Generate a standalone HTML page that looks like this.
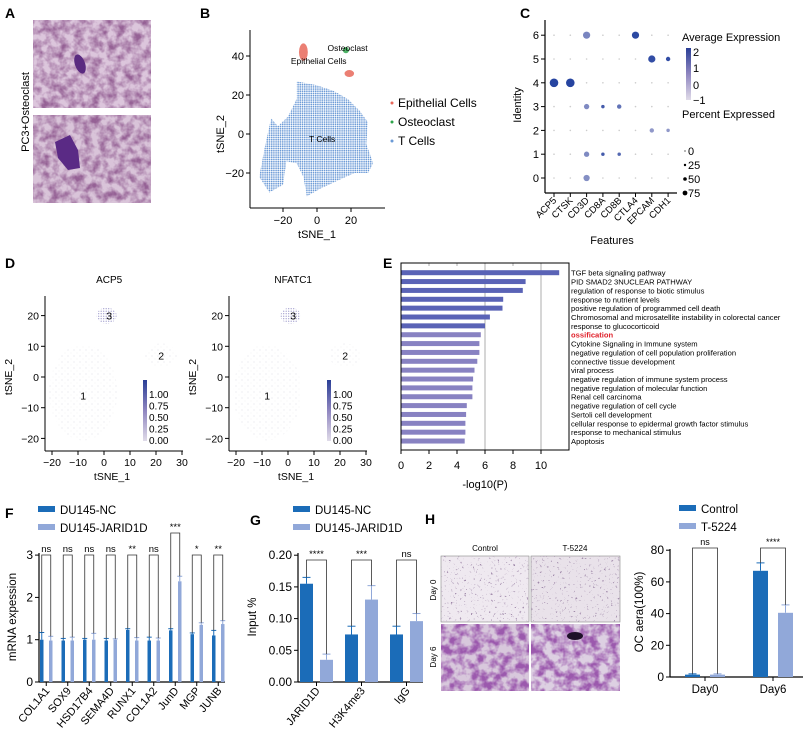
<!DOCTYPE html>
<html><head><meta charset="utf-8">
<style>
html,body{margin:0;padding:0;background:#fff;}
svg{display:block;font-family:"Liberation Sans",Arial,sans-serif;}
</style></head>
<body>
<svg id="fig" width="811" height="738" viewBox="0 0 811 738" xmlns="http://www.w3.org/2000/svg">
<defs>
  <pattern id="tdots" width="2.2" height="2.2" patternUnits="userSpaceOnUse"><circle cx="1.1" cy="1.1" r="0.85" fill="#6b9ad6"/></pattern>
  <pattern id="gdots" width="6" height="6" patternUnits="userSpaceOnUse"><circle cx="2" cy="2" r="0.5" fill="#d6d6de"/><circle cx="5" cy="5" r="0.4" fill="#e0e0e6"/></pattern>
  <pattern id="pdots" width="2.5" height="2.5" patternUnits="userSpaceOnUse"><circle cx="1.2" cy="1.2" r="0.6" fill="#7a74b8"/></pattern>
  <linearGradient id="cbar" x1="0" y1="1" x2="0" y2="0"><stop offset="0" stop-color="#e0dbe8"/><stop offset="0.5" stop-color="#8f86c0"/><stop offset="1" stop-color="#2a3f96"/></linearGradient>
  <filter id="tex1" x="0" y="0" width="1" height="1"><feTurbulence type="fractalNoise" baseFrequency="0.12" numOctaves="3" seed="3"/><feColorMatrix type="matrix" values="0 0 0 0 0.3  0 0 0 0 0.12  0 0 0 0 0.3  0 0 0 -2.2 1.45"/></filter>
  <filter id="tex2" x="0" y="0" width="1" height="1"><feTurbulence type="fractalNoise" baseFrequency="0.45" numOctaves="2" seed="7"/><feColorMatrix type="matrix" values="0 0 0 0 0.35  0 0 0 0 0.25  0 0 0 0 0.4  10 0 0 0 -6.6"/></filter>
  <filter id="tex3" x="0" y="0" width="1" height="1"><feTurbulence type="fractalNoise" baseFrequency="0.11" numOctaves="3" seed="11"/><feColorMatrix type="matrix" values="0 0 0 0 0.33  0 0 0 0 0.1  0 0 0 0 0.42  0 0 0 -3 1.9"/></filter>
</defs>

<g>
  <text x="5" y="18" font-size="14" font-weight="bold">A</text>
  <text transform="translate(29,112) rotate(-90)" text-anchor="middle" font-size="11">PC3+Osteoclast</text>
  <rect x="33" y="20" width="118" height="88" fill="#dcc6dc"/>
  <rect x="33" y="20" width="118" height="88" filter="url(#tex1)"/>
  <ellipse cx="80" cy="64" rx="5" ry="10" fill="#5a2a80" transform="rotate(-20 80 64)"/>
  <rect x="33" y="115" width="118" height="88" fill="#d9c4d9"/>
  <rect x="33" y="115" width="118" height="88" filter="url(#tex1)"/>
  <path d="M55,142 L70,135 L78,150 L80,168 L68,170 L58,158 Z" fill="#5a2a85"/>
</g>

<g>
  <text x="200" y="18" font-size="14" font-weight="bold">B</text>
  <g id="bplot"></g>
</g>

<g>
  <text x="520" y="18" font-size="14" font-weight="bold">C</text>
  <g id="cplot"></g>
</g>

<g>
  <text x="5" y="268" font-size="14" font-weight="bold">D</text>
  <g id="dplot"></g>
</g>

<g>
  <text x="383" y="268" font-size="14" font-weight="bold">E</text>
  <g id="eplot"></g>
</g>

<g>
  <text x="5" y="518" font-size="14" font-weight="bold">F</text>
  <g id="fplot"></g>
</g>

<g>
  <text x="250" y="525" font-size="14" font-weight="bold">G</text>
  <g id="gplot"></g>
</g>

<g>
  <text x="425" y="524" font-size="14" font-weight="bold">H</text>
  <text x="485" y="551" text-anchor="middle" font-size="8">Control</text>
  <text x="575" y="551" text-anchor="middle" font-size="8">T-5224</text>
  <text transform="translate(436,590) rotate(-90)" text-anchor="middle" font-size="8">Day 0</text>
  <text transform="translate(436,657) rotate(-90)" text-anchor="middle" font-size="8">Day 6</text>
  <rect x="441" y="556" width="88" height="66" fill="#efe9f0" stroke="#888" stroke-width="0.6"/>
  <rect x="441" y="556" width="88" height="66" filter="url(#tex2)"/>
  <rect x="531" y="556" width="89" height="66" fill="#e9e2ea" stroke="#888" stroke-width="0.6"/>
  <rect x="531" y="556" width="89" height="66" filter="url(#tex2)"/>
  <rect x="441" y="624" width="88" height="67" fill="#d8c8dc"/>
  <rect x="441" y="624" width="88" height="67" filter="url(#tex3)"/>
  <rect x="531" y="624" width="89" height="67" fill="#ddd0e2"/>
  <rect x="531" y="624" width="89" height="67" filter="url(#tex3)"/>
  <ellipse cx="575" cy="636" rx="8" ry="4" fill="#1e1028"/>
  <g id="hplot"></g>
</g>
</svg>

<script>
const bLegend = ["Epithelial Cells","Osteoclast","T Cells"];
const bLegendColors = ["#e8685a","#2ea44a","#6b9ad6"];
const bTicksX = [-20,0,20];
const bTicksY = [-20,0,20,40];
const bTcellOutline = [[-12,27],[0,25],[10,22],[18,18],[25,12],[30,6],[29,-5],[33,-15],[30,-20],[22,-20],[12,-24],[2,-28],[-6,-32],[-8,-22],[-12,-15],[-18,-14],[-20,-26],[-28,-30],[-34,-22],[-31,-8],[-27,8],[-23,4],[-17,9],[-12,18]];
// cluster blobs: [cx, cy, rx, ry] in data units
const bEpiA = [-8,42,2.6,4.5];
const bEpiB = [19,31,2.8,1.8];
const bOsteo = [17,43,1.8,1.6];

const cFeatures = ["ACP5","CTSK","CD3D","CD8A","CD8B","CTLA4","EPCAM","CDH1"];
const cIdentity = [0,1,2,3,4,5,6];
const cDots = [[0,4,75,2],[1,4,75,2],[5,6,60,1.9],[6,5,60,1.8],[7,5,30,1.8],[2,6,60,0.6],[2,3,40,0.5],[3,3,20,1.5],[4,3,30,1.0],[6,2,30,0.2],[7,2,20,0.2],[2,1,40,0.5],[3,1,20,1.5],[4,1,20,1.2],[2,0,50,0.4]];

const dTitles = ["ACP5","NFATC1"];
const dTicksX = [-20,-10,0,10,20,30];
const dTicksY = [-20,-10,0,10,20];
const dClusterLabels = ["1","2","3"];
const dClusterX = [-8,22,2];
const dClusterY = [-6,7,20];
const dCbarLabels = ["1.00","0.75","0.50","0.25","0.00"];

const eTerms = ["TGF beta signaling pathway","PID SMAD2 3NUCLEAR PATHWAY","regulation of response to biotic stimulus","response to nutrient levels","positive regulation of programmed cell death","Chromosomal and microsatellite instability in colorectal cancer","response to glucocorticoid","ossification","Cytokine Signaling in Immune system","negative regulation of cell population proliferation","connective tissue development","viral process","negative regulation of immune system process","negative regulation of molecular function","Renal cell carcinoma","negative regulation of cell cycle","Sertoli cell development","cellular response to epidermal growth factor stimulus","response to mechanical stimulus","Apoptosis"];
const eValues = [11.3,8.9,8.7,7.3,7.25,6.35,6.0,5.7,5.6,5.6,5.45,5.25,5.15,5.1,5.1,4.7,4.65,4.6,4.6,4.55];
const eTicks = [0,2,4,6,8,10];

const fGenes = ["COL1A1","SOX9","HSD17B4","SEMA4D","RUNX1","COL1A2","JunD","MGP","JUNB"];
const fNC = [1.0,0.98,1.0,0.98,1.23,0.98,1.22,1.13,1.1];
const fNCerr = [0.17,0.05,0.03,0.05,0.03,0.08,0.04,0.03,0.12];
const fJD = [0.98,0.98,1.0,1.0,0.98,0.98,2.38,1.35,1.37];
const fJDerr = [0.1,0.08,0.15,0.02,0.07,0.06,0.12,0.05,0.08];
const fSig = ["ns","ns","ns","ns","**","ns","***","*","**"];
const fTicks = [0,1,2,3];

const gGroups = ["JARID1D","H3K4me3","IgG"];
const gNC = [0.155,0.075,0.075];
const gNCerr = [0.01,0.013,0.013];
const gJD = [0.035,0.13,0.096];
const gJDerr = [0.009,0.022,0.012];
const gSig = ["****","***","ns"];
const gTicks = [0,0.05,0.10,0.15,0.20];

const hGroups = ["Day0","Day6"];
const hCtrl = [1.5,67];
const hCtrlErr = [0.5,5];
const hT = [1.5,40.5];
const hTErr = [0.5,5];
const hSig = ["ns","****"];
const hTicks = [0,20,40,60,80];

const DARK = "#1b6cb8", LIGHT = "#91a8d9";
const NS = "http://www.w3.org/2000/svg";

function mk(parent, tag, attrs, name, text) {
  const el = document.createElementNS(NS, tag);
  for (const k in attrs) el.setAttribute(k, attrs[k]);
  
  
  if (text !== undefined) el.textContent = text;
  parent.appendChild(el);
  return el;
}
function ln(p, x1, y1, x2, y2, name, col, w) {
  return mk(p, 'line', {x1, y1, x2, y2, stroke: col || '#000', 'stroke-width': w || 1}, name);
}
function tx(p, x, y, s, name, size, anchor, extra) {
  const a = {x, y, 'font-size': size || 11, 'text-anchor': anchor || 'start'};
  if (extra) for (const k in extra) a[k] = extra[k];
  return mk(p, 'text', a, name, s);
}

// B
(function(){
  const g = document.getElementById('bplot');
  const X = v => 317 + 1.7 * v, Y = v => 134 - 1.95 * v;
  ln(g, 250, 30, 250, 208, 'y-axis');
  ln(g, 250, 208, 385, 208, 'x-axis');
  bTicksY.forEach(t => { ln(g, 246, Y(t), 250, Y(t), 'y-tick'); tx(g, 244, Y(t) + 4, String(t).replace('-', '−'), 'y-tick-label', 11, 'end'); });
  bTicksX.forEach(t => { ln(g, X(t), 208, X(t), 212, 'x-tick'); tx(g, X(t), 224, String(t).replace('-', '−'), 'x-tick-label', 11, 'middle'); });
  tx(g, 317, 238, 'tSNE_1', 'x-axis-title', 11, 'middle');
  tx(g, 0, 0, 'tSNE_2', 'y-axis-title', 11, 'middle', {transform: 'translate(224,134) rotate(-90)'});
  const pts = arr => arr.map(p => X(p[0]) + ',' + Y(p[1])).join(' ');
  mk(g, 'polygon', {points: pts(bTcellOutline), fill: 'url(#tdots)'}, 't-cells-cluster');
  const blob = (b, c, n) => mk(g, 'ellipse', {cx: X(b[0]), cy: Y(b[1]), rx: b[2] * 1.7, ry: b[3] * 1.95, fill: c, opacity: 0.85}, n);
  blob(bEpiA, bLegendColors[0], 'epithelial-cluster-a');
  blob(bEpiB, bLegendColors[0], 'epithelial-cluster-b');
  blob(bOsteo, bLegendColors[1], 'osteoclast-cluster');
  tx(g, X(18), Y(43) + 1, 'Osteoclast', 'cluster-label-osteoclast', 8.5, 'middle');
  tx(g, X(1), Y(37) + 2, 'Epithelial Cells', 'cluster-label-epithelial', 8.5, 'middle');
  tx(g, X(3), Y(-4), 'T Cells', 'cluster-label-tcells', 8.5, 'middle');
  bLegend.forEach((s, i) => {
    const y = 107 + i * 19;
    mk(g, 'circle', {cx: 392, cy: y - 4, r: 1.5, fill: bLegendColors[i]}, 'legend-marker');
    tx(g, 398, y, s, 'legend-entry', 12);
  });
})();

// C
(function(){
  const g = document.getElementById('cplot');
  const X = i => 554 + i * 16.3, Y = v => 178 - v * 23.8;
  ln(g, 545, 20, 545, 193, 'y-axis', '#000', 1.2);
  ln(g, 545, 193, 677, 193, 'x-axis', '#000', 1.2);
  const col = e => { const t = (e + 1) / 3; const c0 = [215,208,228], c1 = [38,68,160]; return 'rgb(' + c0.map((c, k) => Math.round(c + (c1[k] - c) * t)).join(',') + ')'; };
  cIdentity.forEach(v => { ln(g, 541, Y(v), 545, Y(v), 'y-tick'); tx(g, 539, Y(v) + 4, String(v), 'y-tick-label', 11, 'end'); });
  cFeatures.forEach((f, i) => {
    ln(g, X(i), 193, X(i), 197, 'x-tick');
    tx(g, 0, 0, f, 'x-tick-label', 9.5, 'end', {transform: 'translate(' + (X(i) + 3) + ',201) rotate(-45)'});
    cIdentity.forEach(v => mk(g, 'circle', {cx: X(i), cy: Y(v), r: 0.8, fill: '#ccc'}, 'dot-empty'));
  });
  cDots.forEach(d => mk(g, 'circle', {cx: X(d[0]), cy: Y(d[1]), r: 0.8 + d[2] / 75 * 3.5, fill: col(d[3])}, 'dot-' + cFeatures[d[0]].toLowerCase() + '-' + d[1]));
  tx(g, 612, 244, 'Features', 'x-axis-title', 11, 'middle');
  tx(g, 0, 0, 'Identity', 'y-axis-title', 11, 'middle', {transform: 'translate(521,105) rotate(-90)'});
  tx(g, 682, 41, 'Average Expression', 'color-legend-title', 11);
  mk(g, 'rect', {x: 686, y: 48, width: 5, height: 52, fill: 'url(#cbar)'}, 'color-legend-bar');
  ['2','1','0','−1'].forEach((s, i) => tx(g, 693, [56, 72, 89, 104][i], s, 'color-legend-label', 11));
  tx(g, 682, 118, 'Percent Expressed', 'size-legend-title', 11);
  [0,25,50,75].forEach((p, i) => { const y = 151 + i * 14; mk(g, 'circle', {cx: 685, cy: y, r: 0.6 + p / 75 * 1.8, fill: '#000'}, 'size-legend-dot'); tx(g, 688, y + 4, String(p), 'size-legend-label', 11); });
})();

// D
(function(){
  const g = document.getElementById('dplot');
  [45, 229].forEach((ax, k) => {
    const x0 = ax + 59;
    const X = v => x0 + 2.6 * v, Y = v => 377 - 3.07 * v;
    tx(g, X(2), 283, dTitles[k], 'plot-title-' + dTitles[k].toLowerCase(), 10, 'middle');
    ln(g, ax, 296, ax, 451, 'y-axis');
    ln(g, ax, 451, ax + 138, 451, 'x-axis');
    dTicksY.forEach(t => { ln(g, ax - 4, Y(t), ax, Y(t), 'y-tick'); tx(g, ax - 6, Y(t) + 4, String(t).replace('-', '−'), 'y-tick-label', 10.5, 'end'); });
    dTicksX.forEach(t => { ln(g, X(t), 451, X(t), 455, 'x-tick'); tx(g, X(t), 466, String(t).replace('-', '−'), 'x-tick-label', 10.5, 'middle'); });
    tx(g, X(0) + 8, 480, 'tSNE_1', 'x-axis-title', 10.5, 'middle');
    tx(g, 0, 0, 'tSNE_2', 'y-axis-title', 10.5, 'middle', {transform: 'translate(' + (ax - 33) + ',377) rotate(-90)'});
    mk(g, 'ellipse', {cx: X(-8), cy: Y(-5), rx: 34, ry: 48, fill: 'url(#gdots)'}, 'cluster-1-cells');
    mk(g, 'ellipse', {cx: X(22), cy: Y(7), rx: 16, ry: 12, fill: 'url(#gdots)'}, 'cluster-2-cells');
    mk(g, 'ellipse', {cx: X(1), cy: Y(20), rx: 10, ry: 8, fill: 'url(#pdots)', opacity: 0.8}, 'cluster-3-cells');
    dClusterLabels.forEach((s, i) => tx(g, X(dClusterX[i]), Y(dClusterY[i]) + 4, s, 'cluster-label', 10.5, 'middle'));
    const cbx = ax + 98;
    mk(g, 'rect', {x: cbx, y: 380, width: 4, height: 61, fill: 'url(#cbar)'}, 'colorbar');
    dCbarLabels.forEach((s, i) => tx(g, cbx + 6, 398 + i * 11.5, s, 'colorbar-label', 10));
  });
})();

// E
(function(){
  const g = document.getElementById('eplot');
  const X = v => 401 + 14 * v, Y = i => 272.7 + i * 8.86;
  [6,10].forEach(t => ln(g, X(t), 263, X(t), 450, 'gridline', '#c8c8c8', 1.5));
  [2,4,8].forEach(t => ln(g, X(t), 263, X(t), 266, 'grid-tick', '#c8c8c8', 1.5));
  eValues.forEach((v, i) => mk(g, 'rect', {x: 401, y: Y(i) - 2.5, width: X(v) - 401, height: 5, fill: i < 7 ? '#5a63b6' : '#8882c2'}, 'bar-' + (i + 1)));
  mk(g, 'rect', {x: 401, y: 263, width: 168, height: 187, fill: 'none', stroke: '#000', 'stroke-width': 1}, 'plot-frame');
  eTicks.forEach(t => { ln(g, X(t), 450, X(t), 454, 'x-tick'); tx(g, X(t), 469, String(t), 'x-tick-label', 11, 'middle'); });
  tx(g, 485, 488, '-log10(P)', 'x-axis-title', 11, 'middle');
  eTerms.forEach((s, i) => tx(g, 571, Y(i) + 3, s, 'term-label', 7.6, 'start', s === 'ossification' ? {fill: '#e0202a', 'font-weight': 'bold'} : {}));
})();

function groupBars(g, cfg) {
  const Y = v => cfg.y0 - v * cfg.ppu;
  ln(g, cfg.ax, cfg.yTop, cfg.ax, cfg.y0, 'y-axis', '#000', 1.2);
  ln(g, cfg.ax, cfg.y0, cfg.axEnd, cfg.y0, 'x-axis', '#000', 1.2);
  cfg.ticks.forEach(t => { ln(g, cfg.ax - 4, Y(t), cfg.ax, Y(t), 'y-tick'); tx(g, cfg.ax - 6, Y(t) + 4, cfg.fmt(t), 'y-tick-label', cfg.tf, 'end'); });
  cfg.groups.forEach((name, i) => {
    const x1 = cfg.x0 + i * cfg.step, x2 = x1 + cfg.gap;
    const bars = [[x1, cfg.a[i], cfg.ae[i], DARK, 'dark'], [x2, cfg.b[i], cfg.be[i], LIGHT, 'light']];
    bars.forEach(b => {
      mk(g, 'rect', {x: b[0], y: Y(b[1]), width: cfg.bw, height: cfg.y0 - Y(b[1]), fill: b[3]}, 'bar-' + name.toLowerCase() + '-' + b[4]);
      const cx = b[0] + cfg.bw / 2, top = Y(b[1] + b[2]);
      ln(g, cx, Y(b[1]), cx, top, 'error-bar', b[3], 1);
      ln(g, cx - cfg.cap, top, cx + cfg.cap, top, 'error-cap', b[3], 1);
    });
    const c1 = x1 + cfg.bw / 2, c2 = x2 + cfg.bw / 2, bt = cfg.brTop(i);
    mk(g, 'polyline', {points: c1 + ',' + Y(cfg.a[i] + cfg.ae[i]) + ' ' + c1 + ',' + bt + ' ' + c2 + ',' + bt + ' ' + c2 + ',' + Y(cfg.b[i] + cfg.be[i]), fill: 'none', stroke: '#333', 'stroke-width': 0.8}, 'significance-bracket');
    tx(g, (c1 + c2) / 2, bt - 3, cfg.sig[i], 'significance-label', cfg.sf, 'middle');
    const lx = cfg.labelRot ? (x1 + x2 + cfg.bw) / 2 : (c1 + c2) / 2;
    ln(g, (c1 + c2) / 2, cfg.y0, (c1 + c2) / 2, cfg.y0 + 4, 'x-tick');
    if (cfg.labelRot) tx(g, 0, 0, name, 'x-tick-label', cfg.lf, 'end', {transform: 'translate(' + (lx + 4) + ',' + (cfg.y0 + 9) + ') rotate(-50)'});
    else tx(g, lx, cfg.y0 + 16, name, 'x-tick-label', cfg.lf, 'middle');
  });
  cfg.legend.forEach((s, i) => {
    mk(g, 'rect', {x: cfg.lx, y: cfg.ly + i * 18 - 8, width: 17, height: 6, fill: i ? LIGHT : DARK}, 'legend-swatch');
    tx(g, cfg.lx + 22, cfg.ly + i * 18, s, 'legend-entry', 11.5);
  });
  tx(g, 0, 0, cfg.ytitle, 'y-axis-title', 11.5, 'middle', {transform: 'translate(' + cfg.ytx + ',' + (cfg.y0 - 65) + ') rotate(-90)'});
}

groupBars(document.getElementById('fplot'), {
  ax: 39, axEnd: 225, y0: 682, yTop: 553, ppu: 42.3, ticks: fTicks, fmt: t => String(t), tf: 12,
  groups: fGenes, a: fNC, ae: fNCerr, b: fJD, be: fJDerr, sig: fSig,
  x0: 40, step: 21.5, gap: 9, bw: 3.5, cap: 2.5, sf: 9.5, lf: 11, labelRot: true,
  brTop: i => i === 6 ? 533 : 555,
  legend: ["DU145-NC","DU145-JARID1D"], lx: 38, ly: 514, ytitle: 'mRNA expession', ytx: 16
});

groupBars(document.getElementById('gplot'), {
  ax: 298, axEnd: 423, y0: 682, yTop: 553, ppu: 634, ticks: gTicks, fmt: t => t.toFixed(2), tf: 12,
  groups: gGroups, a: gNC, ae: gNCerr, b: gJD, be: gJDerr, sig: gSig,
  x0: 300, step: 45, gap: 20, bw: 13, cap: 4, sf: 9.5, lf: 11, labelRot: true,
  brTop: i => 560,
  legend: ["DU145-NC","DU145-JARID1D"], lx: 293, ly: 514, ytitle: 'Input %', ytx: 256
});

groupBars(document.getElementById('hplot'), {
  ax: 670, axEnd: 803, y0: 677, yTop: 549, ppu: 1.585, ticks: hTicks, fmt: t => String(t), tf: 12,
  groups: hGroups, a: hCtrl, ae: hCtrlErr, b: hT, be: hTErr, sig: hSig,
  x0: 685, step: 68, gap: 25, bw: 15, cap: 4, sf: 9, lf: 11.5, labelRot: false,
  brTop: i => 548,
  legend: ["Control","T-5224"], lx: 679, ly: 513, ytitle: 'OC aera(100%)', ytx: 643
});
</script>
</body></html>
